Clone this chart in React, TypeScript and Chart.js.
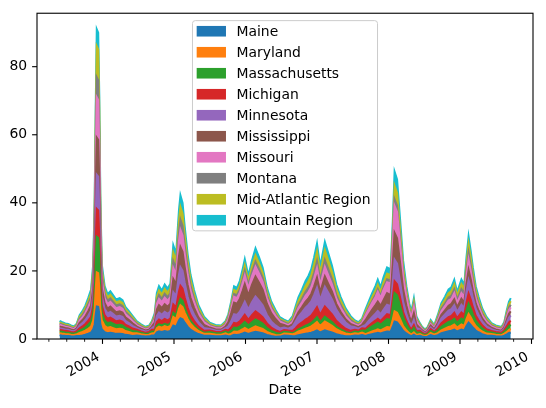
import { useEffect, useRef } from 'react';
import { Chart, registerables } from 'chart.js';

Chart.register(...registerables);

// Decimal-year dates of the samples
const dates = [
  2003.40, 2003.43, 2003.48, 2003.52, 2003.56, 2003.60, 2003.64, 2003.68, 2003.72, 2003.76, 2003.80, 2003.84,
  2003.87, 2003.89, 2003.905, 2003.92, 2003.94, 2003.955, 2003.97, 2003.99, 2004.03, 2004.07, 2004.11, 2004.15,
  2004.19, 2004.24, 2004.28, 2004.32, 2004.37, 2004.42, 2004.48, 2004.54, 2004.60, 2004.65, 2004.69, 2004.73,
  2004.76, 2004.79, 2004.83, 2004.87, 2004.91, 2004.95, 2004.99, 2005.03, 2005.07, 2005.09, 2005.12, 2005.15,
  2005.19, 2005.23, 2005.28, 2005.34, 2005.42, 2005.50, 2005.58, 2005.66, 2005.72, 2005.76, 2005.80, 2005.84,
  2005.88, 2005.92, 2005.96, 2005.99, 2006.04, 2006.09, 2006.14, 2006.19, 2006.24, 2006.30, 2006.36, 2006.42,
  2006.48, 2006.54, 2006.60, 2006.66, 2006.70, 2006.74, 2006.79, 2006.84, 2006.88, 2006.92, 2006.96, 2007.00,
  2007.045, 2007.11, 2007.16, 2007.21, 2007.27, 2007.33, 2007.40, 2007.47, 2007.53, 2007.58, 2007.63, 2007.68,
  2007.72, 2007.77, 2007.82, 2007.85, 2007.89, 2007.93, 2007.98, 2008.03, 2008.06, 2008.085, 2008.12, 2008.16,
  2008.205, 2008.25, 2008.29, 2008.32, 2008.355, 2008.39, 2008.44, 2008.47, 2008.51, 2008.545, 2008.59, 2008.64,
  2008.69, 2008.74, 2008.79, 2008.84, 2008.88, 2008.92, 2008.96, 2009.02, 2009.06, 2009.09, 2009.12, 2009.15,
  2009.18, 2009.22, 2009.26, 2009.31, 2009.37, 2009.44, 2009.50, 2009.58, 2009.62, 2009.655, 2009.685, 2009.71,
];

const maine = [
  1.1, 1.0, .92, .88, .8, .74, .9, .91, 1.07, 1.27, 1.56, 1.89,
  2.86, 4.2, 7.14, 9.56, 9.45, 7.56, 4.41, 2.86, 2.02, 1.72, 1.82, 1.66,
  1.51, 1.56, 1.48, 1.22, 1.07, .88, 1.04, .86, .72, .78, 1.04, 1.09,
  1.96, 2.25, 2.06, 2.32, 2.15, 2.35, 3.99, 3.63, 5.51, 6.12, 5.8, 4.79,
  3.63, 2.76, 2.09, 1.45, .94, .96, .82, .8, 1.04, .8, .88, 1.24,
  1.2, 1.36, 1.64, 1.87, 1.48, 1.84, 2.13, 1.92, 1.68, 1.2, .88, .68,
  .7, 1.02, .96, .8, .86, 1.1, 1.31, 1.53, 1.67, 1.85, 2.16, 2.52,
  1.91, 2.57, 2.25, 1.94, 1.44, 1.12, .81, .8, 1.04, .96, 1.2, .92,
  1.16, 1.42, 1.66, 1.82, 1.61, 1.89, 2.23, 2.13, 3.68, 5.16, 4.89, 3.78,
  2.42, 1.63, 1.1, .84, 1.25, .8, .92, .72, .56, .68, 1.12, .82,
  1.12, 1.68, 2.0, 2.32, 2.45, 2.77, 2.21, 2.8, 2.53, 3.84, 4.8, 4.16,
  3.36, 2.48, 1.98, 1.44, 1.04, .92, .8, .7, 1.0, 1.36, 1.76, 1.92,
];

const maryland = [
  .6, .6, .55, .53, .48, .44, .54, .84, .98, 1.18, 1.44, 1.74,
  2.64, 4.4, 7.48, 10.0, 9.9, 7.92, 4.62, 2.64, 1.86, 1.58, 1.68, 1.54,
  1.39, 1.44, 1.37, 1.13, .98, .82, .62, .52, .43, .47, .62, .68,
  1.22, 1.4, 1.28, 1.44, 1.33, 1.46, 2.48, 2.25, 3.42, 3.8, 3.6, 2.97,
  2.25, 1.71, 1.3, .9, .59, .58, .49, .48, .62, .45, .66, .93,
  .9, 1.02, 1.23, 1.4, 1.11, 1.38, 1.6, 1.44, 1.26, .9, .66, .51,
  .37, .61, .58, .59, .86, 1.1, 1.31, 1.53, 1.67, 1.85, 2.16, 2.52,
  1.91, 2.57, 2.25, 1.94, 1.44, 1.12, .81, .59, .62, .58, .72, .53,
  .66, .81, .95, 1.04, .92, 1.08, 1.27, 1.22, 2.1, 2.95, 2.8, 2.16,
  1.38, .93, .63, .48, .71, .39, .55, .43, .34, .41, .67, .49,
  .6, .89, 1.06, 1.23, 1.3, 1.47, 1.17, 1.49, 1.34, 2.04, 2.55, 2.21,
  1.79, 1.32, 1.05, .77, .55, .55, .48, .42, .6, .72, .94, 1.02,
];

const massachusetts = [
  .5, .5, .46, .44, .4, .37, .45, .7, .82, .98, 1.2, 1.45,
  2.2, 4.6, 7.82, 10.47, 10.35, 8.28, 4.83, 2.2, 1.55, 1.32, 1.4, 1.28,
  1.16, 1.2, 1.14, .94, .82, .68, .52, .43, .36, .39, .52, .34,
  .61, .7, .64, .72, .67, .73, 1.24, 1.13, 1.71, 1.9, 1.8, 1.49,
  1.13, .86, .65, .45, .29, .48, .41, .4, .52, .56, .83, 1.16,
  1.13, 1.28, 1.54, 1.76, 1.39, 1.73, 2.0, 1.8, 1.58, 1.13, .83, .64,
  .47, .51, .48, .33, .48, .61, .73, .85, .93, 1.03, 1.2, 1.4,
  1.06, 1.43, 1.25, 1.08, .8, .62, .45, .33, .52, .48, .6, .97,
  1.21, 1.49, 1.74, 1.9, 1.68, 1.98, 2.33, 2.23, 3.85, 5.4, 5.13, 3.96,
  2.53, 1.71, 1.16, .88, 1.31, .72, .46, .36, .28, .34, .56, .41,
  .7, 1.05, 1.25, 1.45, 1.53, 1.73, 1.38, 1.75, 1.58, 2.4, 3.0, 2.6,
  2.1, 1.55, 1.24, .9, .65, .46, .4, .35, .5, .85, 1.1, 1.2,
];

const michigan = [
  .5, .5, .46, .44, .4, .37, .45, .7, .82, .98, 1.2, 1.45,
  2.2, 3.6, 6.12, 8.19, 8.1, 6.48, 3.78, 2.2, 1.55, 1.32, 1.4, 1.28,
  1.16, 1.2, 1.14, .94, .82, .68, .52, .43, .36, .39, .52, .68,
  1.22, 1.4, 1.28, 1.44, 1.33, 1.46, 2.48, 2.25, 3.42, 3.8, 3.6, 2.97,
  2.25, 1.71, 1.3, .9, .59, .48, .41, .4, .52, .68, .99, 1.4,
  1.35, 1.53, 1.85, 2.11, 1.67, 2.07, 2.39, 2.16, 1.89, 1.35, .99, .77,
  .56, .51, .48, .68, 1.0, 1.28, 1.52, 1.79, 1.94, 2.15, 2.52, 2.94,
  2.23, 2.99, 2.63, 2.26, 1.68, 1.3, .95, .68, .52, .48, .6, .62,
  .77, .95, 1.11, 1.21, 1.07, 1.26, 1.48, 1.42, 2.45, 3.44, 3.26, 2.52,
  1.61, 1.09, .74, .56, .83, .46, .46, .36, .28, .34, .56, .41,
  .7, 1.05, 1.25, 1.45, 1.53, 1.73, 1.38, 1.75, 1.58, 2.4, 3.0, 2.6,
  2.1, 1.55, 1.24, .9, .65, .46, .4, .35, .5, .85, 1.1, 1.2,
];

const minnesota = [
  .5, .45, .41, .4, .36, .33, .41, .84, .98, 1.18, 1.44, 1.74,
  2.64, 4.4, 7.48, 10.0, 9.9, 7.92, 4.62, 2.64, 1.86, 1.58, 1.68, 1.54,
  1.39, 1.44, 1.37, 1.13, .98, .82, .47, .39, .32, .35, .47, .98,
  1.76, 2.02, 1.85, 2.08, 1.92, 2.11, 3.58, 3.25, 4.94, 5.49, 5.2, 4.29,
  3.25, 2.47, 1.87, 1.3, .85, .43, .37, .36, .47, 1.24, 1.82, 2.56,
  2.48, 2.81, 3.38, 3.86, 3.05, 3.8, 4.39, 3.96, 3.47, 2.48, 1.82, 1.4,
  1.02, .7, .55, 1.33, 1.95, 2.5, 2.97, 3.49, 3.79, 4.2, 4.92, 5.74,
  4.35, 5.84, 5.13, 4.41, 3.28, 2.54, 1.85, 1.33, .75, .55, .54, 1.14,
  1.43, 1.76, 2.05, 2.25, 1.99, 2.34, 2.76, 2.64, 4.55, 6.38, 6.06, 4.68,
  2.99, 2.02, 1.37, 1.04, 1.55, .85, .41, .32, .25, .31, .5, .37,
  .91, 1.37, 1.63, 1.89, 1.99, 2.25, 1.79, 2.28, 2.05, 3.12, 3.9, 3.38,
  2.73, 2.02, 1.61, 1.17, .85, .5, .36, .32, .45, 1.11, 1.43, 1.56,
];

const mississippi = [
  .5, .45, .41, .4, .36, .33, .41, .77, .9, 1.08, 1.32, 1.6,
  2.42, 4.8, 8.16, 10.92, 10.8, 8.64, 5.04, 2.42, 1.71, 1.45, 1.54, 1.41,
  1.28, 1.32, 1.25, 1.03, .9, .75, .47, .39, .32, .35, .47, 1.05,
  1.89, 2.17, 1.99, 2.24, 2.07, 2.27, 3.85, 3.5, 5.32, 5.91, 5.6, 4.62,
  3.5, 2.66, 2.02, 1.4, .91, .43, .37, .36, .47, 1.2, 2.42, 3.41,
  3.3, 3.74, 4.51, 5.15, 4.07, 5.06, 5.85, 5.28, 4.62, 3.3, 2.42, 1.87,
  1.36, .8, .6, .68, 1.0, 1.28, 1.52, 1.79, 1.94, 2.15, 2.52, 2.94,
  2.23, 2.99, 2.63, 2.26, 1.68, 1.3, .95, .68, .47, .43, .54, 1.41,
  1.76, 2.16, 2.53, 2.77, 2.45, 2.88, 3.39, 3.25, 5.6, 7.86, 7.46, 5.76,
  3.68, 2.48, 1.68, 1.28, 1.9, 1.04, .41, .32, .25, .31, .5, .37,
  .7, 1.05, 1.25, 1.45, 1.53, 1.73, 1.38, 1.75, 1.58, 2.4, 3.0, 2.6,
  2.1, 1.55, 1.24, .9, .65, .41, .36, .32, .45, .85, 1.1, 1.2,
];

const missouri = [
  .5, .45, .41, .4, .36, .33, .41, .7, .82, .98, 1.2, 1.45,
  2.2, 5.2, 8.84, 11.83, 11.7, 9.36, 5.46, 2.2, 1.55, 1.32, 1.4, 1.28,
  1.16, 1.2, 1.14, .94, .82, .68, .47, .39, .32, .35, .47, .9,
  1.62, 1.86, 1.7, 1.92, 1.78, 1.94, 3.3, 3.0, 4.56, 5.06, 4.8, 3.96,
  3.0, 2.28, 1.73, 1.2, .78, .43, .37, .36, .47, .83, 1.21, 1.71,
  1.65, 1.87, 2.26, 2.57, 2.04, 2.53, 2.93, 2.64, 2.31, 1.65, 1.21, .94,
  .68, .46, .43, .65, .95, 1.22, 1.45, 1.7, 1.85, 2.05, 2.4, 2.8,
  2.12, 2.85, 2.5, 2.15, 1.6, 1.24, .9, .65, .47, .43, .54, 1.41,
  1.6, 2.0, 2.4, 2.9, 2.3, 3.0, 3.2, 3.4, 5.2, 7.9, 7.7, 5.5,
  3.68, 2.48, 1.68, 1.28, 1.9, 1.04, .41, .32, .25, .31, .5, .37,
  .75, 1.1, 1.2, 1.5, 1.45, 1.8, 1.3, 1.7, 1.65, 2.3, 3.1, 2.5,
  2.1, 1.55, 1.24, .9, .65, .41, .36, .32, .45, .85, 1.1, 1.2,
];

const montana = [
  .3, .3, .28, .26, .24, .22, .27, .49, .57, .69, .84, 1.02,
  1.54, 2.6, 4.42, 5.92, 5.85, 4.68, 2.73, 1.54, 1.09, .92, .98, .9,
  .81, .84, .8, .66, .57, .48, .31, .26, .22, .23, .31, .53,
  .95, 1.09, .99, 1.12, 1.04, 1.13, 1.93, 1.75, 2.66, 2.95, 2.8, 2.31,
  1.75, 1.33, 1.01, .7, .46, .29, .25, .24, .31, .41, .61, .85,
  .83, .94, 1.13, 1.29, 1.02, 1.27, 1.46, 1.32, 1.16, .83, .61, .47,
  .34, .31, .29, .46, .67, .85, 1.02, 1.19, 1.3, 1.44, 1.68, 1.96,
  1.48, 2.0, 1.75, 1.51, 1.12, .87, .63, .46, .31, .29, .36, .35,
  .44, .54, .63, .69, .61, .72, .85, .81, 1.4, 1.96, 1.86, 1.44,
  .92, .62, .42, .32, .48, .26, .28, .22, .17, .2, .34, .25,
  .46, .68, .81, .94, .99, 1.12, .9, 1.14, 1.03, 1.56, 1.95, 1.69,
  1.37, 1.01, .81, .59, .42, .28, .24, .21, .3, .55, .72, .78,
];

const midAtlantic = [
  .4, .4, .37, .35, .32, .3, .36, .56, .66, .78, .96, 1.16,
  1.76, 4.0, 6.8, 9.1, 9.0, 7.2, 4.2, 1.76, 1.24, 1.06, 1.12, 1.02,
  .93, .96, .91, .75, .66, .54, .42, .34, .29, .31, .42, .68,
  1.22, 1.4, 1.28, 1.44, 1.33, 1.46, 2.48, 2.25, 3.42, 3.8, 3.6, 2.97,
  2.25, 1.71, 1.3, .9, .59, .38, .33, .32, .42, .53, .77, 1.09,
  1.05, 1.19, 1.44, 1.64, 1.3, 1.61, 1.86, 1.68, 1.47, 1.05, .77, .6,
  .43, .41, .38, .65, .95, 1.22, 1.45, 1.7, 1.85, 2.05, 2.4, 2.8,
  2.12, 2.85, 2.5, 2.15, 1.6, 1.24, .9, .65, .42, .38, .48, .7,
  .88, 1.08, 1.26, 1.38, 1.22, 1.44, 1.7, 1.62, 2.8, 3.93, 3.73, 2.88,
  1.84, 1.24, .84, .64, .95, .52, .37, .29, .22, .27, .45, .33,
  .6, .89, 1.06, 1.23, 1.3, 1.47, 1.17, 1.49, 1.34, 2.04, 2.55, 2.21,
  1.79, 1.32, 1.05, .77, .55, .37, .32, .28, .4, .72, .94, 1.02,
];

const mountain = [
  .4, .35, .32, .31, .28, .26, .32, .49, .57, .69, .84, 1.02,
  1.54, 2.2, 3.74, 5.0, 4.95, 3.96, 2.31, 1.54, 1.09, .92, .98, .9,
  .81, .84, .8, .66, .57, .48, .36, .3, .25, .27, .36, .6,
  1.08, 1.24, 1.14, 1.28, 1.18, 1.3, 2.2, 2.0, 3.04, 3.38, 3.2, 2.64,
  2.0, 1.52, 1.15, .8, .52, .34, .29, .28, .36, .56, .83, 1.16,
  1.13, 1.28, 1.54, 1.76, 1.39, 1.73, 2.0, 1.8, 1.58, 1.13, .83, .64,
  .47, .36, .34, .55, .81, 1.04, 1.23, 1.45, 1.57, 1.74, 2.04, 2.38,
  1.8, 2.42, 2.13, 1.83, 1.36, 1.05, .77, .55, .36, .34, .42, .75,
  .94, 1.15, 1.34, 1.47, 1.3, 1.53, 1.8, 1.73, 2.98, 4.17, 3.96, 3.06,
  1.96, 1.32, .89, .68, 1.01, .55, .32, .25, .2, .24, .39, .29,
  .53, .79, .94, 1.09, 1.15, 1.3, 1.04, 1.31, 1.19, 1.8, 2.25, 1.95,
  1.58, 1.16, .93, .68, .49, .32, .28, .25, .35, .64, .83, .9,
];

const seriesNames = [
  'Maine', 'Maryland', 'Massachusetts', 'Michigan', 'Minnesota',
  'Mississippi', 'Missouri', 'Montana', 'Mid-Atlantic Region', 'Mountain Region',
];
const seriesValues = [
  maine, maryland, massachusetts, michigan, minnesota,
  mississippi, missouri, montana, midAtlantic, mountain,
];
const seriesColors = [
  '#1f77b4', '#ff7f0e', '#2ca02c', '#d62728', '#9467bd',
  '#8c564b', '#e377c2', '#7f7f7f', '#bcbd22', '#17becf',
];
const yTickValues = [0, 20, 40, 60, 80];
const xTickYears = [2004, 2005, 2006, 2007, 2008, 2009, 2010];
const xAxisTitle = 'Date';

const FONT = '"DejaVu Sans", sans-serif';
const FS = 13.9;

export default function App() {
  const ref = useRef<HTMLCanvasElement>(null);

  useEffect(() => {
    const canvas = ref.current;
    if (!canvas) return;

    const quarterTicks: number[] = [];
    for (let q = 2003.25; q <= 2010.001; q += 0.25) quarterTicks.push(Math.round(q * 100) / 100);

    const framePlugin = {
      id: 'mplFrame',
      afterDraw(chart: any) {
        const { ctx, chartArea: a, scales } = chart;
        const xs = scales.x;
        const ys = scales.y;
        ctx.save();
        ctx.strokeStyle = '#000';
        xs.ticks.forEach((t: any) => {
          const px = xs.getPixelForValue(t.value);
          const major = Math.abs(t.value - Math.round(t.value)) < 1e-6;
          ctx.lineWidth = major ? 1.1 : 0.85;
          ctx.beginPath();
          ctx.moveTo(px, a.bottom);
          ctx.lineTo(px, a.bottom + (major ? 4.9 : 2.8));
          ctx.stroke();
        });
        ctx.lineWidth = 1.1;
        ys.ticks.forEach((t: any) => {
          const py = ys.getPixelForValue(t.value);
          ctx.beginPath();
          ctx.moveTo(a.left, py);
          ctx.lineTo(a.left - 4.9, py);
          ctx.stroke();
        });
        ctx.strokeRect(a.left, a.top, a.right - a.left, a.bottom - a.top);
        ctx.restore();
      },
    };

    const legendPlugin = {
      id: 'mplLegend',
      afterDraw(chart: any) {
        const { ctx, chartArea: a } = chart;
        const datasets = chart.data.datasets;
        ctx.save();
        ctx.font = `${FS}px ${FONT}`;
        let maxW = 0;
        datasets.forEach((d: any) => { maxW = Math.max(maxW, ctx.measureText(d.label).width); });
        const pad = 5.6;
        const handleW = 29.3;
        const gap = 10.4;
        const pitch = 21;
        const w = pad + handleW + gap + maxW + pad;
        const h = (datasets.length - 1) * pitch + 21.2;
        const left = (a.left + a.right) / 2 - w / 2;
        const top = a.top + 7.4;
        const r = 2.8;
        ctx.beginPath();
        ctx.moveTo(left + r, top);
        ctx.arcTo(left + w, top, left + w, top + h, r);
        ctx.arcTo(left + w, top + h, left, top + h, r);
        ctx.arcTo(left, top + h, left, top, r);
        ctx.arcTo(left, top, left + w, top, r);
        ctx.closePath();
        ctx.fillStyle = 'rgba(255,255,255,0.8)';
        ctx.fill();
        ctx.strokeStyle = '#cccccc';
        ctx.lineWidth = 1;
        ctx.stroke();
        datasets.forEach((d: any, i: number) => {
          const cy = top + 10.6 + i * pitch;
          ctx.fillStyle = d.backgroundColor;
          ctx.fillRect(left + 4.2, cy - 5.3, handleW, 10.6);
          ctx.fillStyle = '#000';
          ctx.textAlign = 'left';
          ctx.textBaseline = 'alphabetic';
          ctx.fillText(d.label, left + pad + handleW + gap - 1.3, cy + 5.2);
        });
        ctx.restore();
      },
    };

    const gridOpts = {
      display: true,
      drawOnChartArea: false,
      drawTicks: true,
      tickLength: 4.9,
      color: 'rgba(0,0,0,0)',
    };

    const chart = new Chart(canvas, {
      type: 'line',
      data: {
        datasets: seriesNames.map((name, i) => ({
          label: name,
          data: dates.map((d, j) => ({ x: d, y: seriesValues[i][j] })),
          borderColor: seriesColors[i],
          backgroundColor: seriesColors[i],
          borderWidth: 2,
          pointRadius: 0,
          pointHoverRadius: 0,
          tension: 0,
          fill: i === 0 ? 'origin' : '-1',
        })),
      },
      options: {
        animation: false,
        responsive: false,
        devicePixelRatio: 1,
        events: [],
        layout: { padding: { left: 0, right: 13, top: 13, bottom: 0 } },
        plugins: {
          legend: { display: false },
          tooltip: { enabled: false },
        },
        scales: {
          x: {
            type: 'linear',
            min: 2003.084,
            max: 2010.021,
            afterBuildTicks: (s: any) => { s.ticks = quarterTicks.map((v) => ({ value: v })); },
            afterFit: (s: any) => { s.height = 69; },
            grid: gridOpts,
            border: { display: false },
            ticks: {
              autoSkip: false,
              minRotation: 30,
              maxRotation: 30,
              padding: 4.9,
              labelOffset: -4,
              color: '#000',
              font: { family: FONT, size: FS },
              callback: (v: any) => {
                const n = Number(v);
                const r = Math.round(n);
                return Math.abs(n - r) < 1e-6 && xTickYears.includes(r) ? String(r) : '';
              },
            },
            title: {
              display: true,
              text: xAxisTitle,
              color: '#000',
              font: { family: FONT, size: FS },
              padding: { top: 0, bottom: 9 },
            },
          },
          y: {
            stacked: true,
            min: 0,
            max: 95.7,
            afterBuildTicks: (s: any) => { s.ticks = yTickValues.map((v) => ({ value: v })); },
            afterFit: (s: any) => { s.width = 37; },
            grid: gridOpts,
            border: { display: false },
            ticks: {
              padding: 4.9,
              color: '#000',
              font: { family: FONT, size: FS },
            },
          },
        },
      } as any,
      plugins: [framePlugin, legendPlugin],
    });

    return () => chart.destroy();
  }, []);

  return (
    <div style={{ position: 'fixed', left: 0, top: 0, width: 546, height: 408, background: '#fff' }}>
      <canvas ref={ref} width={546} height={408} style={{ display: 'block', width: 546, height: 408 }} />
    </div>
  );
}
